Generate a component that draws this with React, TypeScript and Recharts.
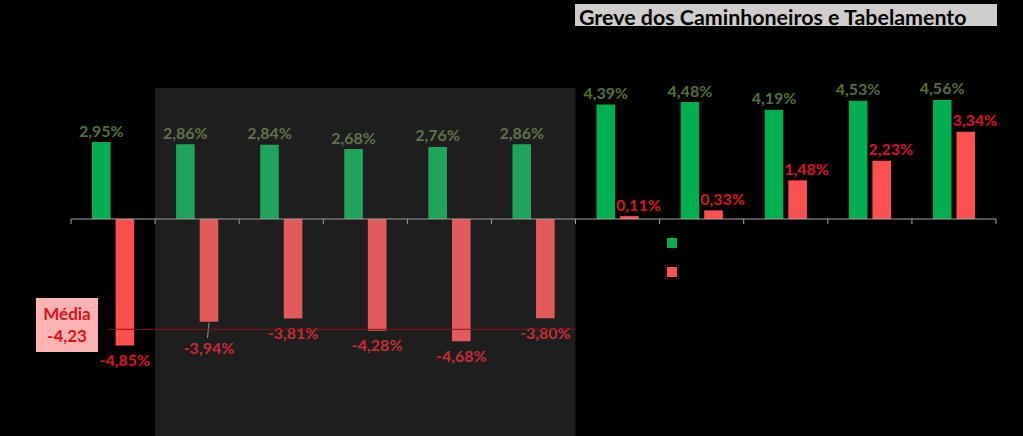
import React from "react";
import {
  BarChart,
  Bar,
  XAxis,
  YAxis,
  ReferenceLine,
  ReferenceArea,
  LabelList,
} from "recharts";

// periods (axis labels are not shown in the original)
const categories = ["P1", "P2", "P3", "P4", "P5", "P6", "P7", "P8", "P9", "P10", "P11"];
const greenValues = [2.95, 2.86, 2.84, 2.68, 2.76, 2.86, 4.39, 4.48, 4.19, 4.53, 4.56];
const redValues = [-4.85, -3.94, -3.81, -4.28, -4.68, -3.8, 0.11, 0.33, 1.48, 2.23, 3.34];
// shaded period (2nd to 6th category) and the average drawn over it
const shadedFrom = "P2";
const shadedTo = "P6";
const avgCount = 6;
const titleText = "Greve dos Caminhoneiros e Tabelamento";

const rows = categories.map((name, i) => ({
  name,
  green: greenValues[i],
  red: redValues[i],
}));

const avg = redValues.slice(0, avgCount).reduce((a, b) => a + b, 0) / avgCount;

const GREEN = "#00b050";
const RED = "#ff5050";
const GREEN_TEXT = "#55703a";
const RED_TEXT = "#dc1420";
const FONT = "Lato, 'Open Sans', sans-serif";

const fmt = (v: number) => v.toFixed(2).replace(".", ",") + "%";

function BarLabel(props: any) {
  const { x, y, width, height, value, index, color, nudgePositive } = props;
  const v = Number(value);
  const top = Math.min(y, y + height);
  const bottom = Math.max(y, y + height);
  let cx = x + width / 2;
  let cy = v >= 0 ? top - 12 : bottom + 14;
  let leader: React.ReactNode = null;
  if (v >= 0 && nudgePositive) cx += 9;
  // label pushed down in the original, with a leader line
  if (v < 0 && index === 1) {
    leader = (
      <line x1={cx} y1={bottom + 1} x2={cx - 1.5} y2={bottom + 16} stroke="#9a9a9a" strokeWidth={1} />
    );
    cy = bottom + 26;
  }
  return (
    <g>
      {leader}
      <text
        x={cx}
        y={cy}
        fill={color}
        textAnchor="middle"
        dominantBaseline="central"
        fontFamily={FONT}
        fontWeight={700}
        fontSize={16}
      >
        {fmt(v)}
      </text>
    </g>
  );
}

function ZeroAxis(props: any) {
  const { x1, x2, y1 } = props;
  const n = categories.length;
  const step = (x2 - x1) / n;
  return (
    <g>
      <line x1={x1} y1={y1} x2={x2} y2={y1} stroke="#a6a6a6" strokeWidth={1} />
      {Array.from({ length: n + 1 }, (_, i) => (
        <line key={i} x1={x1 + i * step} y1={y1} x2={x1 + i * step} y2={y1 + 5} stroke="#a6a6a6" strokeWidth={1} />
      ))}
    </g>
  );
}

function AvgLine(props: any) {
  const { x1, x2, y1 } = props;
  const step = (x2 - x1) / categories.length;
  return (
    <line x1={x1 + step * 0.43} y1={y1} x2={x1 + step * avgCount} y2={y1} stroke="#8c1418" strokeWidth={1} />
  );
}

export default function App() {
  return (
    <div
      style={{
        position: "absolute",
        left: 0,
        top: 0,
        width: 1023,
        height: 436,
        background: "#000",
        overflow: "hidden",
        fontFamily: FONT,
      }}
    >
      <BarChart
        width={1023}
        height={436}
        data={rows}
        margin={{ top: 88, right: 27, bottom: 0, left: 71 }}
        barSize={18.6}
        barGap={5}
      >
        <XAxis dataKey="name" hide />
        <YAxis hide domain={[-8.314, 5.019]} allowDataOverflow />
        <ReferenceLine y={0} shape={(p: any) => <ZeroAxis {...p} />} />
        <Bar dataKey="green" fill={GREEN} isAnimationActive={false}>
          <LabelList dataKey="green" content={(p: any) => <BarLabel {...p} color={GREEN_TEXT} />} />
        </Bar>
        <Bar dataKey="red" fill={RED} isAnimationActive={false}>
          <LabelList dataKey="red" content={(p: any) => <BarLabel {...p} color={RED_TEXT} nudgePositive />} />
        </Bar>
        <ReferenceArea
          x1={shadedFrom}
          x2={shadedTo}
          fill="#808080"
          fillOpacity={0.235}
          stroke="none"
          {...({ zIndex: 2500 } as any)}
        />
        <ReferenceLine y={avg} shape={(p: any) => <AvgLine {...p} />} {...({ zIndex: 2600 } as any)} />
      </BarChart>

      {/* title box */}
      <svg width={422} height={34} style={{ position: "absolute", left: 575, top: 4, overflow: "visible" }}>
        <rect x={0} y={0} width={422} height={22} fill="#cfcecc" />
        <text x={4} y={21} fontFamily={FONT} fontWeight={700} fontSize={21.4} fill="#000">
          {titleText}
        </text>
      </svg>

      {/* legend markers */}
      <div style={{ position: "absolute", left: 667, top: 238, width: 10, height: 10, background: GREEN }} />
      <div style={{ position: "absolute", left: 667, top: 267, width: 10, height: 10, background: RED }} />

      {/* average box */}
      <div
        style={{
          position: "absolute",
          left: 36,
          top: 298,
          width: 62,
          height: 54,
          background: "#ffb4b4",
          color: "#e0101a",
          fontWeight: 700,
          fontSize: 17,
          lineHeight: "22px",
          textAlign: "center",
          display: "flex",
          flexDirection: "column",
          justifyContent: "center",
        }}
      >
        <div>Média</div>
        <div>{avg.toFixed(2).replace(".", ",")}</div>
      </div>
    </div>
  );
}
